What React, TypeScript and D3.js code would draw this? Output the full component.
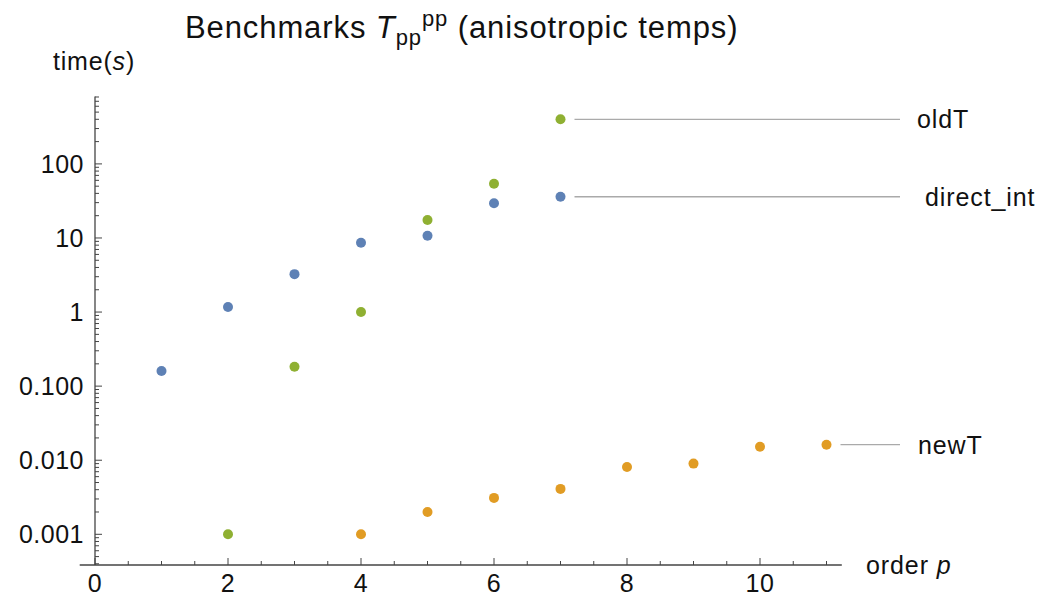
import React from "react";
import * as d3 from "d3";

const directInt: [number, number][] = [
  [1, 0.16], [2, 1.17], [3, 3.25], [4, 8.6], [5, 10.7], [6, 29.5], [7, 36],
];
const oldT: [number, number][] = [
  [2, 0.001], [3, 0.183], [4, 1.0], [5, 17.5], [6, 54], [7, 400],
];
const newT: [number, number][] = [
  [4, 0.001], [5, 0.002], [6, 0.0031], [7, 0.0041], [8, 0.0081], [9, 0.009], [10, 0.0152], [11, 0.0162],
];
const xTicks = [0, 2, 4, 6, 8, 10];
const yTicks = [0.001, 0.01, 0.1, 1, 10, 100];
const yTickLabels = ["0.001", "0.010", "0.100", "1", "10", "100"];

const W = 1058;
const H = 603;
const FONT = "'Liberation Sans', Arial, Helvetica, sans-serif";
const AX = "#444";

export default function App() {
  const x = d3.scaleLinear().domain([0, 10]).range([95, 760]);
  const y = d3.scaleLog().domain([0.001, 100]).range([534.3, 163.9]);
  const xMin = -0.23, xMax = 11.23;
  const yMin = 0.000385, yMax = 810;
  const axisY = y(yMin);
  const axisX = x(0);

  const xMinor = d3.range(0, 11.01, 0.5).filter((v) => !xTicks.includes(v));
  const yMinor: number[] = [];
  for (let e = -4; e <= 2; e++) {
    for (let k = 2; k <= 9; k++) {
      const v = k * Math.pow(10, e);
      if (v >= yMin && v <= yMax) yMinor.push(v);
    }
  }

  const series = [
    { name: "direct_int", data: directInt, color: "#5E81B5" },
    { name: "oldT", data: oldT, color: "#8FB032" },
    { name: "newT", data: newT, color: "#E19C24" },
  ];

  const labels = [
    { name: "oldT", data: oldT, tx: 917 },
    { name: "direct_int", data: directInt, tx: 925 },
    { name: "newT", data: newT, tx: 918 },
  ];

  return (
    <svg width={W} height={H} style={{ position: "absolute", left: 0, top: 0, background: "#fff" }} fontFamily={FONT}>
      {/* title */}
      <text x={185} y={38} fontSize={31} letterSpacing={0.9} fill="#111">
        Benchmarks{" "}
        <tspan fontStyle="italic">T</tspan>
        <tspan fontSize={22} dy={7}>pp</tspan>
        <tspan fontSize={22} dy={-19}>pp</tspan>
        <tspan dy={12}> (anisotropic temps)</tspan>
      </text>
      {/* y label */}
      <text x={53} y={70} fontSize={25} letterSpacing={0.8} fill="#111">
        time(<tspan fontStyle="italic">s</tspan>)
      </text>
      {/* x label */}
      <text x={866} y={574} fontSize={25} letterSpacing={0.9} fill="#111">
        order <tspan fontStyle="italic">p</tspan>
      </text>

      {/* axes */}
      <line x1={x(xMin)} x2={x(xMax)} y1={axisY} y2={axisY} stroke={AX} strokeWidth={1.3} />
      <line x1={axisX} x2={axisX} y1={axisY} y2={y(yMax)} stroke={AX} strokeWidth={1.3} />

      {xTicks.map((t) => (
        <g key={"xt" + t}>
          <line x1={x(t)} x2={x(t)} y1={axisY} y2={axisY - 7} stroke={AX} strokeWidth={1} />
          <text x={x(t)} y={axisY + 27} fontSize={25} letterSpacing={0.5} textAnchor="middle" fill="#111">
            {t}
          </text>
        </g>
      ))}
      {xMinor.map((t) => (
        <line key={"xm" + t} x1={x(t)} x2={x(t)} y1={axisY} y2={axisY - 4} stroke={AX} strokeWidth={1} />
      ))}

      {yTicks.map((t, i) => (
        <g key={"yt" + t}>
          <line x1={axisX} x2={axisX + 7} y1={y(t)} y2={y(t)} stroke={AX} strokeWidth={1} />
          <text x={84} y={y(t) + 9} fontSize={25} letterSpacing={0.5} textAnchor="end" fill="#111">
            {yTickLabels[i]}
          </text>
        </g>
      ))}
      {yMinor.map((t) => (
        <line key={"ym" + t} x1={axisX} x2={axisX + 4} y1={y(t)} y2={y(t)} stroke={AX} strokeWidth={1} />
      ))}

      {/* points */}
      {series.map((s) =>
        s.data.map(([p, v]) => (
          <circle key={s.name + p} cx={x(p)} cy={y(v)} r={5} fill={s.color} />
        ))
      )}

      {/* callout labels */}
      {labels.map((l) => {
        const last = l.data[l.data.length - 1];
        const cy = y(last[1]);
        return (
          <g key={"lab" + l.name}>
            <line x1={x(last[0]) + 14} x2={900} y1={cy} y2={cy} stroke="#aaa" strokeWidth={1.3} />
            <text x={l.tx} y={cy + 9} fontSize={25} letterSpacing={0.9} fill="#111">
              {l.name}
            </text>
          </g>
        );
      })}
    </svg>
  );
}
